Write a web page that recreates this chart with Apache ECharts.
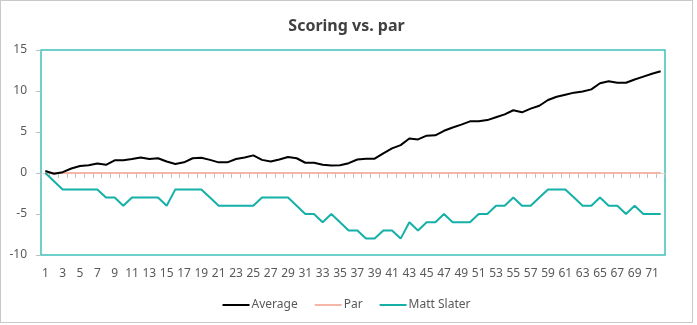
<!DOCTYPE html>
<html>
<head>
<meta charset="utf-8">
<script src="https://cdn.jsdelivr.net/npm/echarts@6/dist/echarts.min.js"></script>
<style>
html,body{margin:0;padding:0;background:#fff;}
#wrap{position:absolute;left:0;top:0;width:691px;height:321px;border:1px solid #c9c9c9;}
#chart{width:691px;height:321px;}
</style>
</head>
<body>
<div id="wrap"><div id="chart"></div></div>
<script>
const categories = ['1','2','3','4','5','6','7','8','9','10','11','12','13','14','15','16','17','18','19','20','21','22','23','24','25','26','27','28','29','30','31','32','33','34','35','36','37','38','39','40','41','42','43','44','45','46','47','48','49','50','51','52','53','54','55','56','57','58','59','60','61','62','63','64','65','66','67','68','69','70','71','72'];
const average = [0.25,-0.1,0.1,0.55,0.85,0.95,1.15,1.0,1.55,1.55,1.7,1.9,1.7,1.8,1.4,1.1,1.3,1.8,1.85,1.6,1.3,1.3,1.7,1.9,2.15,1.6,1.4,1.65,1.95,1.8,1.25,1.25,1.0,0.9,0.95,1.2,1.65,1.75,1.75,2.4,3.0,3.4,4.2,4.1,4.55,4.6,5.15,5.55,5.9,6.3,6.3,6.45,6.8,7.15,7.65,7.4,7.85,8.2,8.9,9.3,9.55,9.8,9.95,10.2,10.95,11.2,11.0,11.0,11.4,11.75,12.1,12.4];
const par = [0,0,0,0,0,0,0,0,0,0,0,0,0,0,0,0,0,0,0,0,0,0,0,0,0,0,0,0,0,0,0,0,0,0,0,0,0,0,0,0,0,0,0,0,0,0,0,0,0,0,0,0,0,0,0,0,0,0,0,0,0,0,0,0,0,0,0,0,0,0,0,0];
const mattSlater = [0,-1,-2,-2,-2,-2,-2,-3,-3,-4,-3,-3,-3,-3,-4,-2,-2,-2,-2,-3,-4,-4,-4,-4,-4,-3,-3,-3,-3,-4,-5,-5,-6,-5,-6,-7,-7,-8,-8,-7,-7,-8,-6,-7,-6,-6,-5,-6,-6,-6,-5,-5,-4,-4,-3,-4,-4,-3,-2,-2,-2,-3,-4,-4,-3,-4,-4,-5,-4,-5,-5,-5];
const seriesNames = ['Average','Par','Matt Slater'];
const titleText = 'Scoring vs. par';

const FONT = 'Noto Sans';
const chart = echarts.init(document.getElementById('chart'), null, {renderer:'canvas'});
chart.setOption({
  animation:false,
  backgroundColor:'#fff',
  title:{text:titleText,left:'center',top:12,textStyle:{fontFamily:FONT,fontSize:16,fontWeight:'bold',color:'#404040'}},
  legend:{data:seriesNames,top:293,left:'center',icon:'rect',itemWidth:27,itemHeight:2,itemGap:17,
    textStyle:{fontFamily:FONT,fontSize:12,color:'#595959',padding:[0,0,0,-3]}},
  grid:{left:40,top:49,width:624,height:205,show:true,borderColor:'#3ec1ba',borderWidth:1.5,backgroundColor:'transparent'},
  xAxis:[
    {type:'category',data:categories,boundaryGap:true,position:'bottom',
     axisLine:{show:false,onZero:false},axisTick:{show:false},
     axisLabel:{interval:1,margin:13,fontFamily:FONT,fontSize:12,color:'#595959'},splitLine:{show:false}},
    {type:'category',data:categories,boundaryGap:true,position:'bottom',
     axisLine:{show:true,onZero:true,lineStyle:{color:'#d9d9d9',width:1}},
     axisTick:{show:true,interval:0,length:5,lineStyle:{color:'#bfbfbf'}},
     axisLabel:{show:false},splitLine:{show:false}}
  ],
  yAxis:{type:'value',min:-10,max:15,interval:5,
    axisLine:{show:false},axisTick:{show:true,length:5,lineStyle:{color:'#bfbfbf'}},
    axisLabel:{margin:14,fontFamily:FONT,fontSize:12,color:'#595959'},splitLine:{show:false}},
  series:[
    {name:seriesNames[0],type:'line',data:average,symbol:'none',xAxisIndex:0,
     lineStyle:{color:'#000000',width:2},itemStyle:{color:'#000000'},z:3},
    {name:seriesNames[1],type:'line',data:par,symbol:'none',xAxisIndex:0,
     lineStyle:{color:'#f6b7a8',width:2},itemStyle:{color:'#f6b7a8'},z:2},
    {name:seriesNames[2],type:'line',data:mattSlater,symbol:'none',xAxisIndex:0,
     lineStyle:{color:'#15b0a8',width:2},itemStyle:{color:'#15b0a8'},z:4}
  ]
});
</script>
</body>
</html>
